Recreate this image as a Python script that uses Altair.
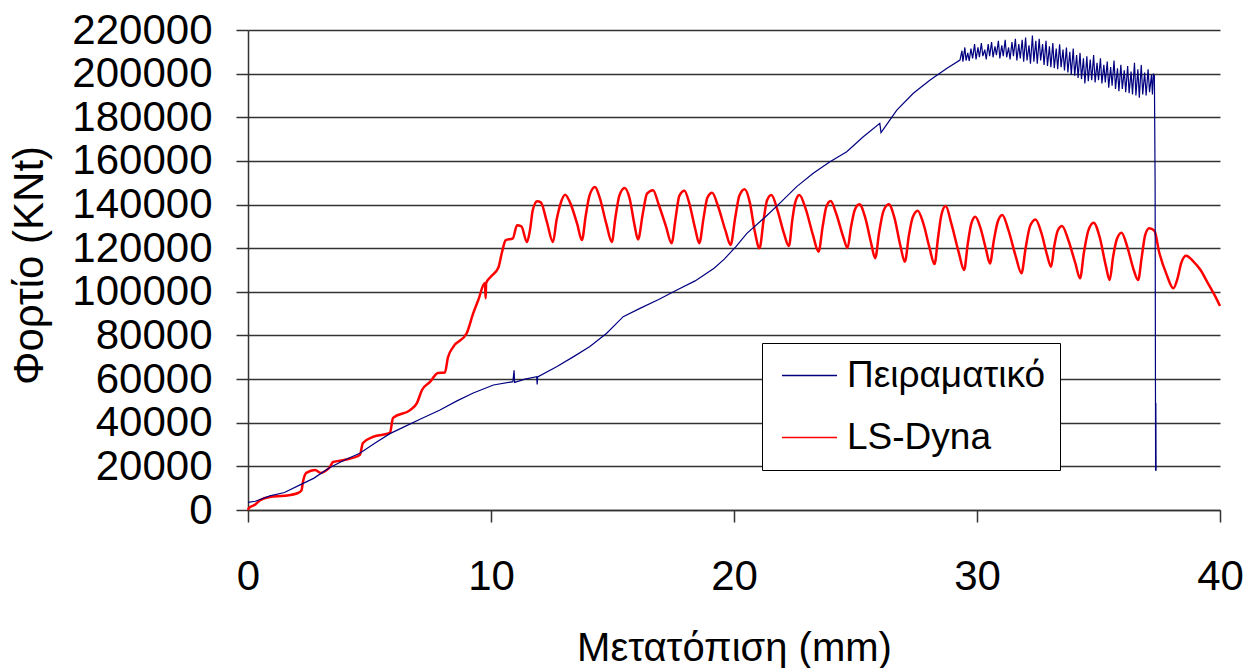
import altair as alt
import pandas as pd

series_names = ["Πειραματικό", "LS-Dyna"]
series_colors = ["#000080", "#ff0000"]
x_ticks = [0, 10, 20, 30, 40]
y_ticks = [0, 20000, 40000, 60000, 80000, 100000, 120000, 140000, 160000, 180000, 200000, 220000]

# Πειραματικό (experimental)
exp_x = [0.0, 0.3, 0.9, 1.5, 2.14, 2.7, 3.37, 4.0, 4.6, 5.2, 5.84, 6.4, 7.08, 7.9, 8.6, 9.27,
         10.1, 10.9, 10.95, 10.97, 11.4, 11.88, 11.9, 11.92, 12.7, 13.4, 14.07, 14.76, 15.44,
         16.13, 16.9, 17.65, 18.4, 19.18, 19.6, 20.08, 20.53, 21.3, 21.92, 22.58, 23.26, 23.95,
         24.64, 25.32, 26.0, 26.05, 26.7, 27.38, 28.07, 28.75,
         29.30, 29.38, 29.42, 29.50, 29.55, 29.62, 29.68, 29.75, 29.82, 29.90, 29.96, 30.04,
         30.10, 30.18, 30.24, 30.32, 30.38, 30.46, 30.52, 30.60, 30.66, 30.74, 30.80, 30.88,
         30.94, 31.02, 31.08, 31.16, 31.22, 31.30, 31.36, 31.44, 31.50, 31.58, 31.64, 31.72,
         31.78, 31.86, 31.92, 32.00, 32.06, 32.14, 32.20, 32.28, 32.34, 32.42, 32.48, 32.56,
         32.62, 32.70, 32.76, 32.84, 32.90, 32.98, 33.04, 33.12, 33.18, 33.26, 33.32, 33.40,
         33.46, 33.54, 33.60, 33.68, 33.74, 33.82, 33.88, 33.96, 34.02, 34.10, 34.16, 34.24,
         34.30, 34.38, 34.44, 34.52, 34.58, 34.66, 34.72, 34.80, 34.86, 34.94, 35.00, 35.08,
         35.14, 35.22, 35.28, 35.36, 35.42, 35.50, 35.56, 35.64, 35.70, 35.78, 35.84, 35.92,
         35.98, 36.06, 36.12, 36.20, 36.26, 36.34, 36.40, 36.48, 36.54, 36.62, 36.68, 36.76,
         36.82, 36.90, 36.96, 37.04, 37.10, 37.18, 37.22, 37.26, 37.30, 37.33, 37.35, 37.36,
         37.37]
exp_y = [3500, 4000, 6500, 8000, 11500, 14500, 19500, 23000, 26000, 30500, 35000, 38000, 41600,
         45800, 50000, 53600, 57300, 58800, 64000, 58500, 60000, 61100, 57500, 61000, 65700,
         70300, 74900, 81000, 88600, 92400, 96500, 100800, 105000, 110800, 115000, 120700,
         126800, 134400, 141000, 148200, 154300, 159600, 164200, 171100, 177200, 173000,
         183300, 191000, 197100, 202400,
         206200, 210500, 205500, 212000, 206000, 209500, 205800, 211500, 207000, 213500, 206500,
         212000, 207500, 214000, 208000, 211000, 206500, 213500, 208000, 214500, 207500, 212500,
         208500, 215000, 207000, 213000, 208000, 215500, 207500, 212000, 206500, 214500, 208000,
         216000, 206000, 213500, 207000, 215500, 205500, 216500, 206000, 213000, 204500, 217500,
         205500, 215000, 204500, 216000, 206000, 213500, 204000, 215000, 203500, 212500, 203000,
         214000, 202500, 211500, 202000, 213500, 203000, 211000, 201500, 212000, 200500, 210000,
         199500, 211500, 199000, 208500, 198000, 209500, 197500, 207000, 195500, 208000, 196500,
         206500, 197000, 208500, 196000, 205000, 197000, 207000, 195500, 204000, 196000, 205500,
         193500, 203000, 194500, 206000, 193000, 202500, 192000, 204000, 193000, 201500, 191500,
         203500, 191000, 201000, 190500, 205000, 190000, 202000, 189000, 204000, 190500, 200500,
         190000, 202000, 191500, 199500, 190500, 200000, 199000, 150000, 18000, 49000, 18000]

# LS-Dyna
dyna_x = [0.0, 0.04, 0.3, 0.5, 0.9, 1.5, 2.06, 2.2, 2.26, 2.4, 2.76, 3.0, 3.2, 3.37, 3.5, 4.0,
          4.6, 4.73, 5.14, 5.84, 5.97, 6.67, 6.95, 7.16, 7.49, 7.82, 8.1, 8.23, 8.44, 9.0, 9.27,
          9.47, 9.75, 9.78, 9.8, 10.0, 10.3, 10.45, 10.6, 10.9, 11.07, 11.25,
          11.48, 11.6, 11.72, 11.9, 12.05, 12.3,
          12.55, 12.7, 12.85, 13.05, 13.25, 13.55,
          13.74, 13.9, 14.05, 14.28, 14.45, 14.75,
          14.97, 15.12, 15.28, 15.5, 15.7, 15.9,
          16.05, 16.25, 16.42, 16.67, 16.9, 17.2,
          17.43, 17.6, 17.75, 17.96, 18.15, 18.4,
          18.57, 18.75, 18.9, 19.1, 19.35, 19.65,
          19.86, 20.05, 20.22, 20.44, 20.65, 20.85,
          21.05, 21.22, 21.36, 21.54, 21.8, 22.05,
          22.26, 22.4, 22.52, 22.69, 22.95, 23.25,
          23.48, 23.65, 23.8, 23.98, 24.2, 24.5,
          24.67, 24.82, 24.97, 25.16, 25.4, 25.65,
          25.81, 25.97, 26.15, 26.37, 26.6, 26.85,
          27.03, 27.2, 27.35, 27.56, 27.8, 28.05,
          28.25, 28.4, 28.53, 28.71, 28.95, 29.25,
          29.47, 29.62, 29.76, 29.93, 30.15, 30.38,
          30.53, 30.7, 30.85, 31.04, 31.3, 31.6,
          31.83, 32.0, 32.18, 32.41, 32.65, 32.88,
          33.05, 33.18, 33.32, 33.5, 33.75, 34.05,
          34.24, 34.4, 34.58, 34.8, 35.05, 35.3,
          35.46, 35.6, 35.75, 35.95, 36.2, 36.45,
          36.63, 36.78, 36.92, 37.09, 37.3, 37.5, 37.8,
          38.08, 38.25, 38.4, 38.6, 38.9, 39.2, 39.5, 39.8, 40.0]
dyna_y = [0, 900, 2500, 4500, 6000, 6500, 7800, 9000, 12800, 17000, 18300, 17000, 18000, 19700,
          22000, 23000, 25200, 30700, 33500, 35300, 42200, 45800, 49000, 55000, 58700, 62800,
          63000, 70000, 74700, 81000, 90200, 96000, 104000, 97000, 104000, 107000, 111000,
          118000, 123600, 124500, 130500, 130000,
          122800, 128000, 137500, 141500, 141000, 132000,
          122800, 133000, 140000, 144500, 141000, 131000,
          123700, 135000, 144000, 148000, 144000, 131000,
          122800, 134000, 144000, 147600, 143000, 131000,
          124000, 136000, 145000, 146600, 140000, 130000,
          122300, 134000, 144000, 146300, 141000, 129000,
          122300, 134000, 143000, 145400, 139000, 128000,
          121500, 134000, 144000, 147000, 141000, 128000,
          120000, 133000, 142000, 144400, 137000, 127000,
          121000, 133000, 141000, 144400, 138000, 126000,
          118400, 130000, 139000, 141600, 136000, 125000,
          120100, 130000, 137500, 140100, 134000, 122000,
          115400, 127000, 137000, 140100, 134000, 121000,
          113800, 126000, 134000, 137200, 131000, 120000,
          112700, 125000, 135000, 139300, 131000, 118000,
          110000, 122000, 131000, 134400, 129000, 119000,
          113000, 124000, 132000, 135200, 128000, 116000,
          108500, 120000, 130000, 133200, 127000, 117000,
          111500, 121000, 128000, 130200, 124000, 113000,
          106200, 118000, 128000, 131700, 125000, 112000,
          105400, 116000, 124000, 127100, 120000, 110000,
          105400, 116000, 126000, 129100, 128000, 118000, 108000,
          101600, 106000, 113000, 116500, 114000, 110000, 104000, 98000, 93500]

df_exp = pd.DataFrame({"x": exp_x, "y": exp_y, "s": series_names[0], "i": list(range(len(exp_x)))})
df_dyna = pd.DataFrame({"x": dyna_x, "y": dyna_y, "s": series_names[1], "i": list(range(len(dyna_x)))})

FONT = "Liberation Sans, Arial, Helvetica, sans-serif"

x_enc = alt.X(
    "x:Q",
    scale=alt.Scale(domain=[0, 40], nice=False, zero=False),
    axis=alt.Axis(
        values=x_ticks, title="Μετατόπιση (mm)", grid=False, format="d", labelFlush=False,
        labelFont=FONT, labelFontSize=42, labelPadding=34, labelColor="black",
        tickSize=12, tickWidth=1.5, tickColor="#333333",
        domainColor="#333333", domainWidth=1.5,
        titleFont=FONT, titleFontSize=40, titleFontWeight="normal", titleColor="black",
        titleX=486, titleY=150, titleBaseline="alphabetic", titleAlign="center",
    ),
)
y_enc = alt.Y(
    "y:Q",
    scale=alt.Scale(domain=[0, 220000], nice=False),
    axis=alt.Axis(
        values=y_ticks, title="Φορτίο (KNt)", grid=True, format="d", labelFlush=False,
        gridColor="#333333", gridWidth=1.3,
        labelFont=FONT, labelFontSize=42, labelPadding=24, labelColor="black",
        tickSize=12, tickWidth=1.5, tickColor="#333333",
        domainColor="#333333", domainWidth=1.5,
        titleFont=FONT, titleFontSize=42, titleFontWeight="normal", titleColor="black",
        titleX=-206, titleY=235, titleAngle=270, titleBaseline="alphabetic", titleAlign="center",
    ),
)
color_enc = alt.Color(
    "s:N",
    scale=alt.Scale(domain=series_names, range=series_colors),
    legend=alt.Legend(
        title=None, orient="none", legendX=514, legendY=313, direction="vertical",
        fillColor="white", strokeColor="black", padding=14,
        symbolType="M-0.909,0H3.091", symbolSize=756, symbolStrokeWidth=1.5,
        labelFont=FONT, labelFontSize=37, labelColor="black", labelOffset=34, labelLimit=400,
        rowPadding=24,
    ),
)

red = alt.Chart(df_dyna).mark_line(strokeWidth=2.5, interpolate="monotone").encode(
    x=x_enc, y=y_enc, color=color_enc, order=alt.Order("i:Q")
)
blue = alt.Chart(df_exp).mark_line(strokeWidth=1.2).encode(
    x=x_enc, y=y_enc, color=color_enc, order=alt.Order("i:Q")
)

chart = alt.layer(red, blue).properties(
    width=972, height=480,
    padding={"left": 248, "top": 30, "right": 26, "bottom": 158},
    autosize=alt.AutoSizeParams(type="none"),
    background="white",
).configure_view(stroke=None)

chart.save("out.html", embed_options={"renderer": "svg", "actions": False})
